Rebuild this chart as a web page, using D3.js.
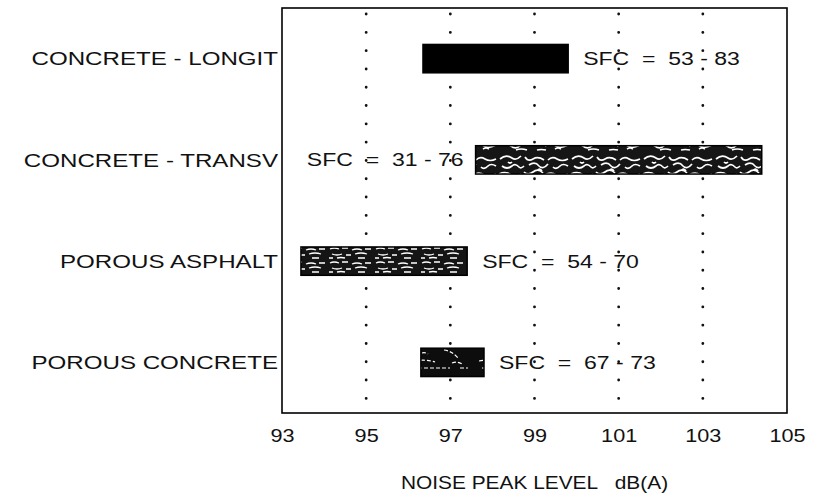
<!DOCTYPE html>
<html>
<head>
<meta charset="utf-8">
<script src="https://cdn.jsdelivr.net/npm/d3@7"></script>
<style>
  body { margin: 0; background: #fff; }
  text { font-family: "Liberation Sans", Arial, sans-serif; fill: #111; }
</style>
</head>
<body>
<div class="chart"></div>
<script>
// surfaces, noise peak ranges and SFC labels
var surfaces = ["CONCRETE - LONGIT", "CONCRETE - TRANSV", "POROUS ASPHALT", "POROUS CONCRETE"];
var lowValues = [96.35, 97.6, 93.45, 96.3];
var highValues = [99.8, 104.4, 97.4, 97.8];
var sfcLabels = ["SFC  =  53 - 83", "SFC  =  31 - 76", "SFC  =  54 - 70", "SFC  =  67 - 73"];
var labelSide = ["right", "left", "right", "right"];
var fills = ["solid", "transv", "asphalt", "porous"];
var xTicks = [93, 95, 97, 99, 101, 103, 105];
var gridTicks = [95, 97, 99, 101, 103];
var xTitle = "NOISE PEAK LEVEL   dB(A)";

var margin = {top: 8, right: 28, bottom: 80, left: 282},
    width = 815 - margin.left - margin.right,
    height = 493 - margin.top - margin.bottom;

var svg = d3.select(".chart")
    .append("svg")
    .attr("width", 815)
    .attr("height", 493);

// motifs des barres
var defs = svg.append("defs");

var pTransv = defs.append("pattern")
    .attr("id", "transv")
    .attr("patternUnits", "userSpaceOnUse")
    .attr("width", 72).attr("height", 29);
pTransv.append("rect").attr("width", 72).attr("height", 29).attr("fill", "#161616");
pTransv.append("path")
    .attr("d", "M2,6 q6,-5 12,-1 q4,3 9,-2 M27,4 q3,5 8,2 q5,-3 11,1 M50,7 q4,-4 9,-1 t11,0 " +
        "M4,13 q5,4 10,0 q3,-3 7,1 q2,2 5,-1 M31,12 q6,-4 10,1 q4,4 9,-2 M55,14 q3,3 7,-1 q3,-3 8,0 " +
        "M1,21 q7,-3 12,1 t10,-1 M26,19 q4,4 9,0 q5,-4 10,1 M47,22 q6,-4 11,0 q4,3 12,-1 " +
        "M10,9 q2,2 4,0 M40,17 q2,-2 4,1 M63,25 q-3,-2 -6,0 M18,26 q5,-2 11,0 M39,26 q4,-1 9,0")
    .attr("fill", "none").attr("stroke", "#fff").attr("stroke-width", 1.7);

var pAsphalt = defs.append("pattern")
    .attr("id", "asphalt")
    .attr("patternUnits", "userSpaceOnUse")
    .attr("width", 46).attr("height", 14);
pAsphalt.append("rect").attr("width", 46).attr("height", 14).attr("fill", "#151515");
pAsphalt.append("path")
    .attr("d", "M2,3 q4,-2 9,0 M14,2 h6 M24,4 q5,-2 10,0 M37,3 h6 M4,8 q5,2 10,0 M18,9 h5 " +
        "M27,8 q6,-2 12,0 M1,12 h4 M9,12 q4,-1 8,0 M30,12 h7")
    .attr("fill", "none").attr("stroke", "#fff").attr("stroke-width", 1.3);

var pPorous = defs.append("pattern")
    .attr("id", "porous")
    .attr("patternUnits", "userSpaceOnUse")
    .attr("width", 64).attr("height", 28);
pPorous.append("rect").attr("width", 64).attr("height", 28).attr("fill", "#0d0d0d");
pPorous.append("path")
    .attr("d", "M5,17 q10,-2 20,1 M34,6 q8,1 14,8 M8,24 h32 M42,19 q5,-2 10,1 M12,9 q3,-1 6,1 M50,24 h8")
    .attr("fill", "none").attr("stroke", "#fff").attr("stroke-width", 1.2)
    .attr("stroke-dasharray", "4,2");

var canvas = svg.append("g")
    .attr("transform", "translate(" + margin.left + "," + margin.top + ")");

var xScale = d3.scaleLinear()
    .domain([93, 105])
    .range([0, width]);

var yScale = d3.scaleBand()
    .domain(surfaces)
    .range([0, height])
    .paddingInner(0.72)
    .paddingOuter(0.36);

// lignes verticales en pointillé
canvas.append("g")
    .selectAll("line")
    .data(gridTicks)
    .enter().append("line")
    .attr("x1", function (d) { return xScale(d); })
    .attr("x2", function (d) { return xScale(d); })
    .attr("y1", 6)
    .attr("y2", height)
    .attr("stroke", "#111")
    .attr("stroke-width", 2.8)
    .attr("stroke-linecap", "round")
    .attr("stroke-dasharray", "0.1,18.2");

// barres
canvas.append("g")
    .selectAll("rect")
    .data(surfaces)
    .enter().append("rect")
    .attr("x", function (d, i) { return xScale(lowValues[i]); })
    .attr("y", function (d) { return yScale(d); })
    .attr("width", function (d, i) { return xScale(highValues[i]) - xScale(lowValues[i]); })
    .attr("height", yScale.bandwidth())
    .attr("fill", function (d, i) { return fills[i] === "solid" ? "#000" : "url(#" + fills[i] + ")"; })
    .attr("stroke", "#000")
    .attr("stroke-width", 1.5);

// textes SFC
canvas.append("g")
    .selectAll("text")
    .data(surfaces)
    .enter().append("text")
    .attr("transform", function (d, i) {
        var x = labelSide[i] === "right" ? xScale(highValues[i]) + 15 : xScale(lowValues[i]) - 12;
        return "translate(" + x + "," + (yScale(d) + yScale.bandwidth() / 2) + ") scale(1.28,1)";
    })
    .attr("dy", "0.36em")
    .attr("text-anchor", function (d, i) { return labelSide[i] === "right" ? "start" : "end"; })
    .style("font-size", "18px")
    .style("white-space", "pre")
    .text(function (d, i) { return sfcLabels[i]; });

// cadre
canvas.append("rect")
    .attr("width", width)
    .attr("height", height)
    .attr("fill", "none")
    .attr("stroke", "#000")
    .attr("stroke-width", 1.6);

// noms des surfaces
canvas.append("g")
    .selectAll("text")
    .data(surfaces)
    .enter().append("text")
    .attr("transform", function (d) {
        return "translate(-4," + (yScale(d) + yScale.bandwidth() / 2) + ") scale(1.27,1)";
    })
    .attr("dy", "0.36em")
    .attr("text-anchor", "end")
    .style("font-size", "19px")
    .text(function (d) { return d; });

// axe X
var xAxis = d3.axisBottom(xScale)
    .tickValues(xTicks)
    .tickSize(0)
    .tickPadding(16);

var gx = canvas.append("g")
    .attr("transform", "translate(0," + height + ")")
    .call(xAxis);
gx.select(".domain").remove();
gx.selectAll("text")
    .style("font-size", "19px")
    .style("font-family", "'Liberation Sans', Arial, sans-serif")
    .attr("fill", "#111")
    .attr("transform", "scale(1.14,1)");

canvas.append("text")
    .attr("transform", "translate(" + (width / 2) + "," + (height + 76) + ") scale(1.16,1)")
    .attr("text-anchor", "middle")
    .style("font-size", "18px")
    .style("white-space", "pre")
    .text(xTitle);
</script>
</body>
</html>
